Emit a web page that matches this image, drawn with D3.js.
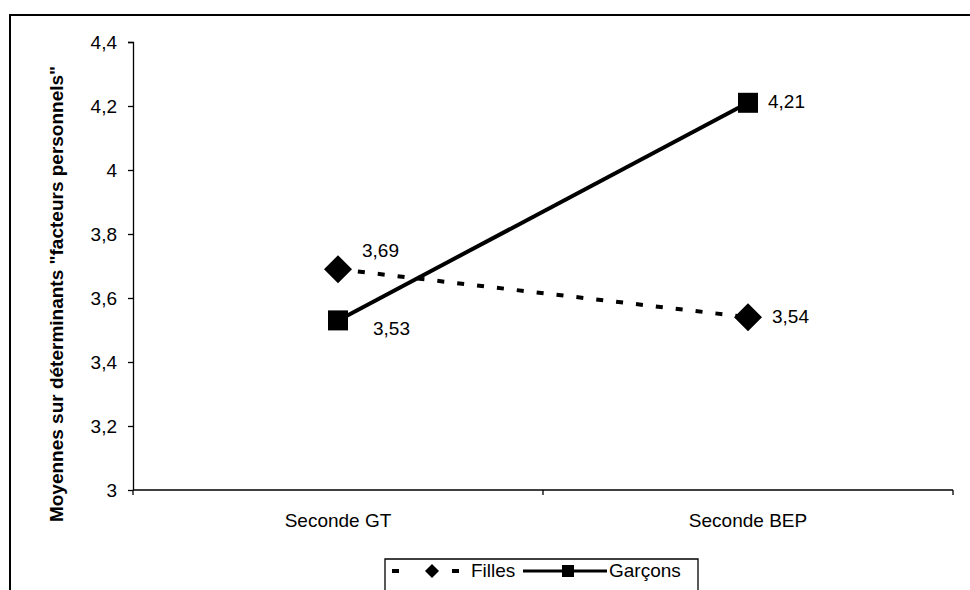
<!DOCTYPE html>
<html>
<head>
<meta charset="utf-8">
<script src="https://cdn.jsdelivr.net/npm/d3@7"></script>
<style>
  body { margin: 0; background: #fff; }
  text { font-family: "Liberation Sans", Arial, sans-serif; fill: #000; }
</style>
</head>
<body>
<div id="chart"></div>
<script>
// categories and series
var categories = ["Seconde GT", "Seconde BEP"];
var fillesValues = [3.69, 3.54];
var garconsValues = [3.53, 4.21];
var yTicks = [3, 3.2, 3.4, 3.6, 3.8, 4, 4.2, 4.4];

var svgWidth = 970;
var svgHeight = 590;
var fontSize = "19px";

var margin = { top: 42, left: 133, right: 17, bottom: 100 };
var width = svgWidth - margin.left - margin.right;   // 820
var height = 490 - margin.top;                       // 448

var svg = d3.select("#chart")
    .append("svg")
    .attr("width", svgWidth)
    .attr("height", svgHeight);

// outer frame (top and left edges visible)
svg.append("path")
    .attr("d", "M10,590 L10,15 L970,15")
    .attr("fill", "none")
    .attr("stroke", "#000")
    .attr("stroke-width", 2);

var chartGroup = svg.append("g")
    .attr("transform", `translate(${margin.left}, ${margin.top})`);

var xScale = d3.scaleBand()
    .domain(categories)
    .range([0, width]);

var yScale = d3.scaleLinear()
    .domain([3, 4.4])
    .range([height, 0]);

// y axis
var leftAxis = d3.axisLeft(yScale)
    .tickValues(yTicks)
    .tickSize(5)
    .tickPadding(11)
    .tickFormat(d => String(d).replace(".", ","));

var yAxis = chartGroup.append("g").call(leftAxis);
yAxis.select(".domain").attr("stroke", "#000").attr("stroke-width", 1.3)
    .attr("d", `M-5,0.5H0.5V${height}`);
yAxis.selectAll(".tick line").attr("stroke", "#000").attr("stroke-width", 1.3);
yAxis.selectAll(".tick text").style("font-size", fontSize);

// x axis (ticks between categories)
var xAxis = chartGroup.append("g")
    .attr("transform", `translate(0, ${height})`);
xAxis.append("line")
    .attr("x1", 0).attr("x2", width)
    .attr("stroke", "#000").attr("stroke-width", 1.3);
xAxis.selectAll(".sep")
    .data([0, xScale.bandwidth(), width])
    .enter()
    .append("line")
    .attr("x1", d => d).attr("x2", d => d)
    .attr("y1", 0).attr("y2", 5)
    .attr("stroke", "#000").attr("stroke-width", 1.3);
xAxis.selectAll(".cat")
    .data(categories)
    .enter()
    .append("text")
    .attr("x", d => xScale(d) + xScale.bandwidth() / 2)
    .attr("y", 37)
    .attr("text-anchor", "middle")
    .style("font-size", fontSize)
    .text(d => d);

// y axis title
svg.append("text")
    .attr("transform", "translate(63, 294) rotate(-90)")
    .attr("text-anchor", "middle")
    .style("font-size", fontSize)
    .style("font-weight", "bold")
    .text("Moyennes sur déterminants \"facteurs personnels\"");

var cx = d => xScale(d) + xScale.bandwidth() / 2;
var fmt = v => String(v).replace(".", ",");

var line = d3.line()
    .x(d => cx(d.cat))
    .y(d => yScale(d.v));

var filles = categories.map((c, i) => ({ cat: c, v: fillesValues[i] }));
var garcons = categories.map((c, i) => ({ cat: c, v: garconsValues[i] }));

// Filles dashed line
chartGroup.append("path")
    .datum(filles)
    .attr("d", line)
    .attr("fill", "none")
    .attr("stroke", "#000")
    .attr("stroke-width", 4)
    .attr("stroke-dasharray", "7,13")
    .attr("stroke-dashoffset", -20);

// Garcons solid line
chartGroup.append("path")
    .datum(garcons)
    .attr("d", line)
    .attr("fill", "none")
    .attr("stroke", "#000")
    .attr("stroke-width", 4);

var diamond = "M0,-14L14,0L0,14L-14,0Z";

chartGroup.selectAll(".fpt")
    .data(filles)
    .enter()
    .append("path")
    .attr("d", diamond)
    .attr("transform", d => `translate(${cx(d.cat)}, ${yScale(d.v)})`)
    .attr("fill", "#000");

chartGroup.selectAll(".gpt")
    .data(garcons)
    .enter()
    .append("rect")
    .attr("x", d => cx(d.cat) - 10)
    .attr("y", d => yScale(d.v) - 10)
    .attr("width", 20)
    .attr("height", 20)
    .attr("fill", "#000");

// data labels
var fillesOffsets = [[24, -12], [24, 6]];
var garconsOffsets = [[35, 15], [20, 5]];

chartGroup.selectAll(".flab")
    .data(filles)
    .enter()
    .append("text")
    .attr("x", (d, i) => cx(d.cat) + fillesOffsets[i][0])
    .attr("y", (d, i) => yScale(d.v) + fillesOffsets[i][1])
    .style("font-size", fontSize)
    .text(d => fmt(d.v));

chartGroup.selectAll(".glab")
    .data(garcons)
    .enter()
    .append("text")
    .attr("x", (d, i) => cx(d.cat) + garconsOffsets[i][0])
    .attr("y", (d, i) => yScale(d.v) + garconsOffsets[i][1])
    .style("font-size", fontSize)
    .text(d => fmt(d.v));

// legend
var legend = svg.append("g");
legend.append("path")
    .attr("d", "M385,590 V559 H698 V590")
    .attr("fill", "none")
    .attr("stroke", "#000")
    .attr("stroke-width", 1.3);

var ly = 571;
legend.append("line")
    .attr("x1", 392).attr("x2", 459)
    .attr("y1", ly).attr("y2", ly)
    .attr("stroke", "#000")
    .attr("stroke-width", 4)
    .attr("stroke-dasharray", "7,53");
legend.append("path")
    .attr("d", "M0,-7L7,0L0,7L-7,0Z")
    .attr("transform", `translate(432, ${ly})`)
    .attr("fill", "#000");
legend.append("text")
    .attr("x", 471).attr("y", ly + 6)
    .style("font-size", fontSize)
    .text("Filles");

legend.append("line")
    .attr("x1", 523).attr("x2", 607)
    .attr("y1", ly).attr("y2", ly)
    .attr("stroke", "#000")
    .attr("stroke-width", 3);
legend.append("rect")
    .attr("x", 562).attr("y", ly - 6)
    .attr("width", 12).attr("height", 12)
    .attr("fill", "#000");
legend.append("text")
    .attr("x", 609).attr("y", ly + 6)
    .style("font-size", fontSize)
    .text("Garçons");
</script>
</body>
</html>
